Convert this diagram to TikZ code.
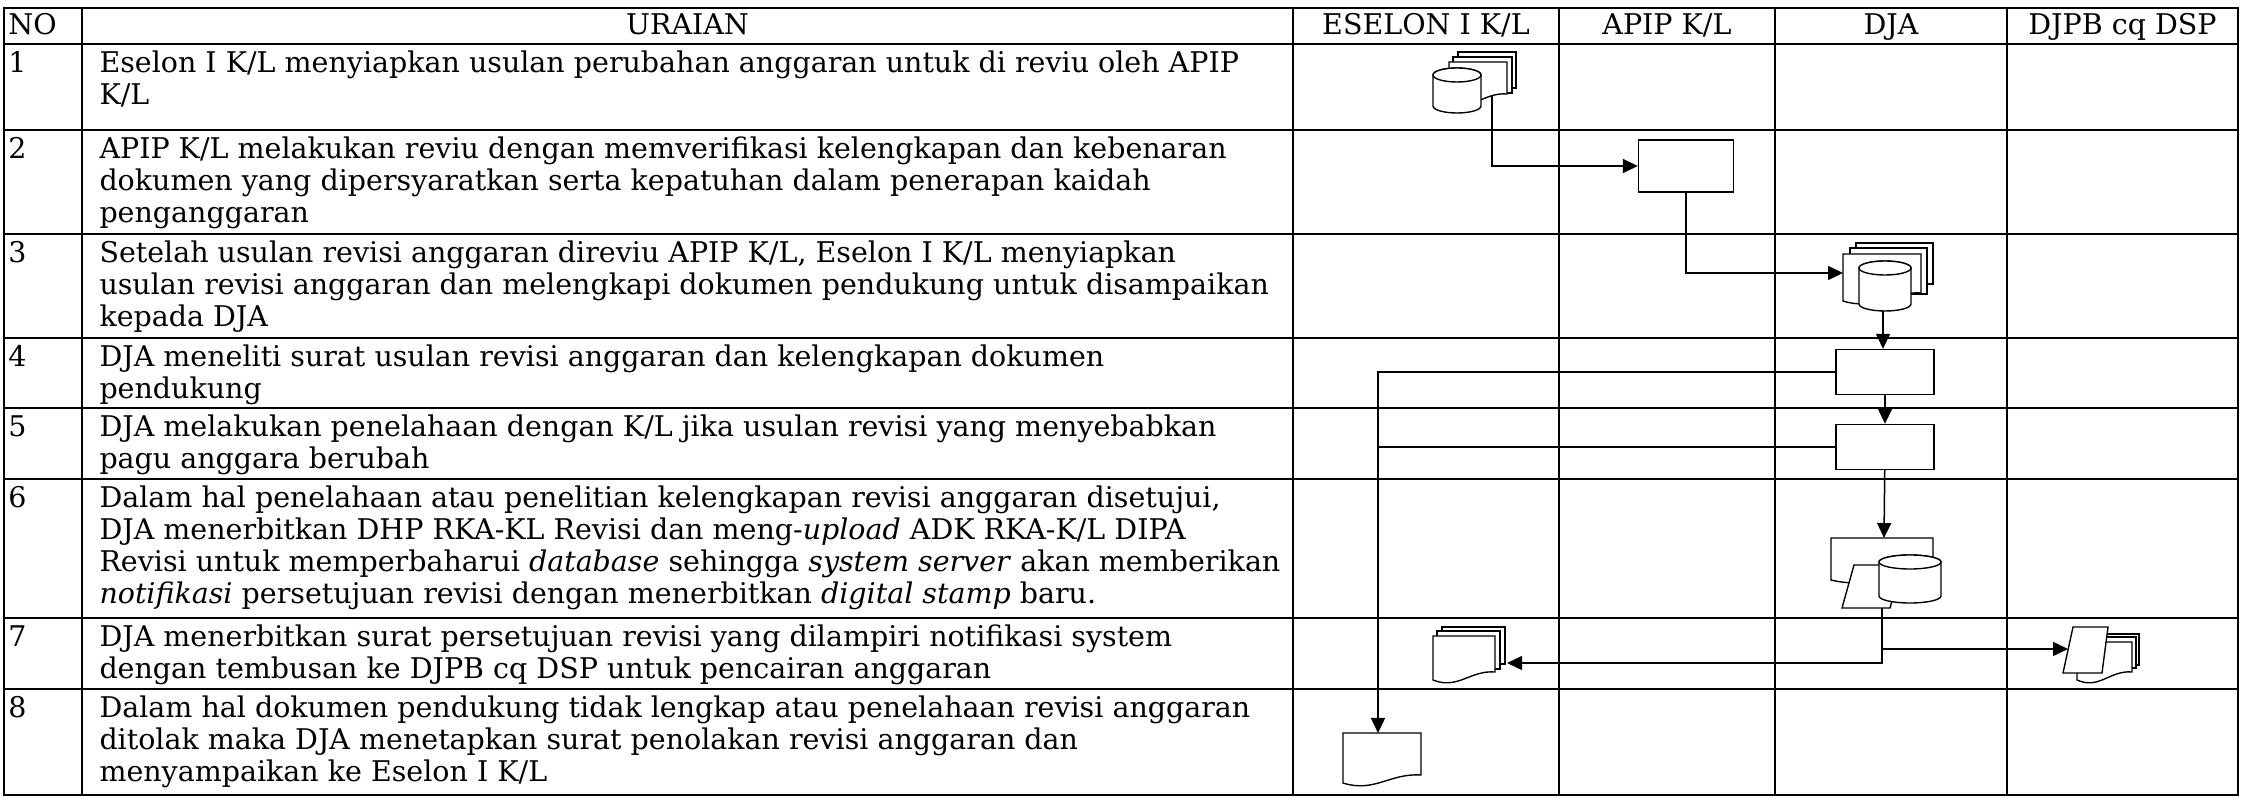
\documentclass[tikz,border=0pt]{standalone}
\usepackage{fontspec}
\setmainfont{DejaVu Serif}
\usetikzlibrary{arrows.meta}

\newcommand{\fs}{\fontsize{11.4}{12.8}\selectfont}
% page with a wavy foot: top-left x, top-left y, width, height
\newcommand{\docwave}[4]{%
  \draw[sym] (#1,#2) -- ++(#3,0) -- ++(0,#4-8)
    .. controls +(-0.4*#3,-2) and +(0.4*#3,10) .. ++(-#3,8) -- cycle;}
% plain back page: top-left x, top-left y, width, height
\newcommand{\docpage}[4]{\draw[sym] (#1,#2) rectangle ++(#3,#4);}
% drum: centre x, top y, x radius, height
\newcommand{\dbcyl}[4]{%
  \draw[sym] (#1-#3,#2+7) -- (#1-#3,#2+#4-7)
    arc[start angle=180,end angle=0,x radius=#3,y radius=7]
    -- (#1+#3,#2+7)
    arc[start angle=0,end angle=-180,x radius=#3,y radius=7] -- cycle;
  \draw[sym] (#1,#2+7) ellipse[x radius=#3,y radius=7];}

\begin{document}
\begin{tikzpicture}[x=0.4pt, y=-0.4pt,
  grid/.style={line width=0.7pt},
  sym/.style={draw, fill=white, line width=0.55pt},
  proc/.style={sym, inner sep=0pt, minimum width=39.2pt, minimum height=18pt},
  arr/.style={-{Triangle[length=6pt,width=5.6pt]}, line width=0.6pt},
  link/.style={line width=0.7pt},
  txt/.style={anchor=north west, inner sep=0pt, align=left, font=\fs},
  head/.style={anchor=north, inner sep=0pt, font=\fs}]
\useasboundingbox (0,0) rectangle (2241,798);

% table
\draw[grid] (4,8) rectangle (2238,795);
\foreach \x in {82,1293,1559,1775,2007} \draw[grid] (\x,8) -- (\x,795);
\foreach \y in {44,130,234,338,408,479,618,689} \draw[grid] (4,\y) -- (2238,\y);

% header
\node[head, anchor=north west] (hno) at (8,12) {\strut NO};
\node[head] (hur) at (687.5,12) {\strut URAIAN};
\node[head] (hes) at (1426,12) {\strut ESELON I K/L};
\node[head] (hap) at (1667,12) {\strut APIP K/L};
\node[head] (hdj) at (1891,12) {\strut DJA};
\node[head] (hds) at (2122.5,12) {\strut DJPB cq DSP};

% rows
\foreach \rt [count=\i] in {44,130,234,338,408,479,618,689}
  \node[txt] (n\i) at (8,\rt+6) {\strut\i};
\node[txt] (u1) at (99,50) {\strut Eselon I K/L menyiapkan usulan perubahan anggaran untuk di reviu oleh APIP\\K/L};
\node[txt] (u2) at (99,136) {\strut APIP K/L melakukan reviu dengan memverifikasi kelengkapan dan kebenaran\\dokumen yang dipersyaratkan serta kepatuhan dalam penerapan kaidah\\penganggaran};
\node[txt] (u3) at (99,240) {\strut Setelah usulan revisi anggaran direviu APIP K/L, Eselon I K/L menyiapkan\\usulan revisi anggaran dan melengkapi dokumen pendukung untuk disampaikan\\kepada DJA};
\node[txt] (u4) at (99,344) {\strut DJA meneliti surat usulan revisi anggaran dan kelengkapan dokumen\\pendukung};
\node[txt] (u5) at (99,414) {\strut DJA melakukan penelahaan dengan K/L jika usulan revisi yang menyebabkan\\pagu anggara berubah};
\node[txt] (u6) at (99,485) {\strut Dalam hal penelahaan atau penelitian kelengkapan revisi anggaran disetujui,\\DJA menerbitkan DHP RKA-KL Revisi dan meng-\textit{upload} ADK RKA-K/L DIPA\\Revisi untuk memperbaharui \textit{database} sehingga \textit{system server} akan memberikan\\\textit{notifikasi} persetujuan revisi dengan menerbitkan \textit{digital stamp} baru.};
\node[txt] (u7) at (99,624) {\strut DJA menerbitkan surat persetujuan revisi yang dilampiri notifikasi system\\dengan tembusan ke DJPB cq DSP untuk pencairan anggaran};
\node[txt] (u8) at (99,695) {\strut Dalam hal dokumen pendukung tidak lengkap atau penelahaan revisi anggaran\\ditolak maka DJA menetapkan surat penolakan revisi anggaran dan\\menyampaikan ke Eselon I K/L};

% processes
\node[proc, minimum width=38pt, minimum height=20.8pt] (p2) at (1686,166) {};
\node[proc] (p4) at (1885,372) {};
\node[proc] (p5) at (1885,447) {};

% row 1: documents + drum
\docpage{1458}{52}{58}{36}
\docpage{1453}{57}{59}{36}
\docwave{1449}{62}{58}{40}
\dbcyl{1457}{68}{24}{45}
\coordinate (d1) at (1492,96);

% row 3: documents + drum
\docpage{1856}{243}{77}{41}
\docpage{1850}{248}{77}{46}
\docwave{1843}{254}{78}{47}
\dbcyl{1885}{261}{26}{50}
\coordinate (d3in) at (1843,273);
\coordinate (d3out) at (1883,311);

% row 6: document, input, drum
\docwave{1831}{538}{102}{42}
\draw[sym] (1842,608) -- (1890,608) -- (1902,565) -- (1854,565) -- cycle;
\dbcyl{1910}{555}{31}{48}
\coordinate (d6in) at (1884,538);
\coordinate (d6out) at (1882,608);

% row 7: eselon copy
\docpage{1442}{627}{63}{37}
\docpage{1437}{631}{63}{38}
\docwave{1433}{636}{62}{44}
\coordinate (d7a) at (1507,663);

% row 7: djpb copy
\docpage{2085}{634}{54}{31}
\docpage{2081}{637}{55}{31}
\docwave{2077}{642}{55}{38}
\draw[sym] (2063,673) -- (2102,673) -- (2108,627) -- (2073,627) -- cycle;
\coordinate (d7b) at (2068,649);

% row 8: rejection letter
\docwave{1343}{733}{78}{50}
\coordinate (d8) at (1378,733);

% flow
\draw[arr] (d1) |- (p2.west);
\draw[arr] (p2.south) |- (d3in);
\draw[arr] (d3out) -- (d3out |- p4.north);
\draw[arr] (p4) -- (p5);
\draw[arr] (p5) -- (d6in);
\draw[arr] (p4.west) -| (d8);
\draw[link] (p5.west) -- (p5.west -| d8);
\draw[arr] (d6out) |- (d7a);
\draw[arr] (d6out |- d7b) -- (d7b);
\end{tikzpicture}
\end{document}
